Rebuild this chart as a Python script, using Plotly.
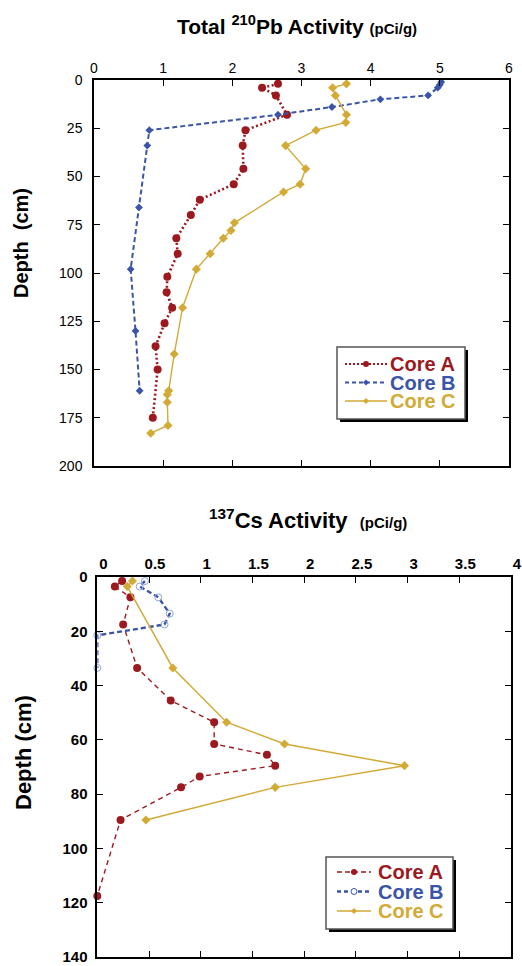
import plotly.graph_objects as go

W, H = 522, 966

# ---- Total 210Pb activity (pCi/g) by depth (cm) ----
pb_depth_a = [2, 4, 8, 18, 26, 34, 46, 54, 62, 70, 82, 90, 102, 110, 118, 126, 138, 150, 175]
pb_core_a = [2.66, 2.43, 2.63, 2.79, 2.19, 2.15, 2.16, 2.02, 1.53, 1.40, 1.19, 1.21,
             1.06, 1.05, 1.13, 1.02, 0.89, 0.92, 0.85]

pb_depth_b = [1, 2.5, 4, 8, 10, 14, 18, 26, 34, 66, 98, 130, 161]
pb_core_b = [5.02, 5.0, 4.97, 4.83, 4.14, 3.44, 2.66, 0.80, 0.77, 0.65, 0.53, 0.60, 0.66]

pb_depth_c = [2, 4, 8, 18, 22, 26, 34, 46, 54, 58, 74, 78, 82, 90, 98, 118, 142,
              161, 163, 167, 179, 183]
pb_core_c = [3.65, 3.45, 3.49, 3.65, 3.64, 3.21, 2.77, 3.06, 2.98, 2.74, 2.03, 1.98,
             1.87, 1.68, 1.48, 1.28, 1.16, 1.08, 1.06, 1.06, 1.07, 0.82]

# ---- 137Cs activity (pCi/g) by depth (cm) ----
cs_depth_a = [1.5, 3.5, 7.5, 17.5, 33.5, 45.5, 53.5, 61.5, 65.5, 69.5, 73.5, 77.5, 89.5, 117.5]
cs_core_a = [0.24, 0.17, 0.32, 0.25, 0.385, 0.71, 1.13, 1.13, 1.64, 1.72, 0.99, 0.81, 0.225, 0.0]

cs_depth_b = [1.5, 3.5, 7.5, 13.5, 17.5, 21.5, 33.5]
cs_core_b = [0.46, 0.41, 0.59, 0.70, 0.65, 0.0, 0.0]

cs_depth_c = [1.5, 3.5, 33.5, 53.5, 61.5, 69.5, 77.5, 89.5]
cs_core_c = [0.34, 0.29, 0.73, 1.25, 1.81, 2.97, 1.72, 0.47]

pb_ticks = [0, 1, 2, 3, 4, 5, 6]
pb_depth_ticks = [0, 25, 50, 75, 100, 125, 150, 175, 200]
cs_ticks = [0, 0.5, 1, 1.5, 2, 2.5, 3, 3.5, 4]
cs_depth_ticks = [0, 20, 40, 60, 80, 100, 120, 140]

RED = "#9c1a1f"
BLUE = "#3a55a8"
GOLD = "#d3aa36"
LIGHT_BLUE = "#8ea4d8"
FONT = "Liberation Sans, Arial, sans-serif"


def px(x):
    return x / W


def py(y):
    return 1 - y / H


fig = go.Figure()

# upper panel traces
fig.add_trace(go.Scatter(x=pb_core_a, y=pb_depth_a, mode="lines+markers", name="Core A",
                         line=dict(color=RED, width=2.6, dash="2px,2.5px"),
                         marker=dict(symbol="circle", size=8, color=RED),
                         xaxis="x", yaxis="y", cliponaxis=False))
fig.add_trace(go.Scatter(x=pb_core_b, y=pb_depth_b, mode="lines+markers", name="Core B",
                         line=dict(color=BLUE, width=2, dash="5px,3px"),
                         marker=dict(symbol="diamond", size=6, color=BLUE),
                         xaxis="x", yaxis="y", cliponaxis=False))
fig.add_trace(go.Scatter(x=pb_core_c, y=pb_depth_c, mode="lines+markers", name="Core C",
                         line=dict(color=GOLD, width=1.4),
                         marker=dict(symbol="diamond", size=7, color=GOLD),
                         xaxis="x", yaxis="y", cliponaxis=False))

# lower panel traces
fig.add_trace(go.Scatter(x=cs_core_a, y=cs_depth_a, mode="lines+markers", name="Core A",
                         line=dict(color=RED, width=1.4, dash="5px,4px"),
                         marker=dict(symbol="circle", size=8, color=RED),
                         xaxis="x2", yaxis="y2", cliponaxis=False))
fig.add_trace(go.Scatter(x=cs_core_b, y=cs_depth_b, mode="lines+markers", name="Core B",
                         line=dict(color=BLUE, width=2.4, dash="5px,3px"),
                         marker=dict(symbol="circle-open", size=7, color=LIGHT_BLUE,
                                     line=dict(width=1, color=LIGHT_BLUE)),
                         xaxis="x2", yaxis="y2", cliponaxis=False))
fig.add_trace(go.Scatter(x=cs_core_c, y=cs_depth_c, mode="lines+markers", name="Core C",
                         line=dict(color=GOLD, width=1.5),
                         marker=dict(symbol="diamond", size=7, color=GOLD),
                         xaxis="x2", yaxis="y2", cliponaxis=False))

axis_common = dict(showline=True, linecolor="black", linewidth=1.5, mirror="ticks",
                   ticks="inside", ticklen=6, tickwidth=1, tickcolor="black",
                   showgrid=False, zeroline=False, automargin=False,
                   ticklabeloverflow="allow")

fig.update_layout(
    width=W, height=H, margin=dict(l=0, r=0, t=0, b=0, autoexpand=False),
    paper_bgcolor="white", plot_bgcolor="white", showlegend=False,
    font=dict(family=FONT, color="black"),
    xaxis=dict(domain=[px(94), px(509)], range=[0, 6], side="top", anchor="y",
               tickvals=pb_ticks, tickfont=dict(size=14, family=FONT), **axis_common),
    yaxis=dict(domain=[py(466), py(80)], range=[200, 0], anchor="x",
               tickvals=pb_depth_ticks, ticklabelstandoff=7,
               tickfont=dict(size=14, family=FONT), **axis_common),
    xaxis2=dict(domain=[px(97.3), px(511)], range=[0, 4], side="top", anchor="y2",
                tickvals=cs_ticks, ticktext=[f"{v:g}" for v in cs_ticks], ticklabelshift=6,
                tickfont=dict(size=15, family=FONT, weight="bold"), **axis_common),
    yaxis2=dict(domain=[py(957), py(577)], range=[140, 0], anchor="x2",
                tickvals=cs_depth_ticks, ticklabelstandoff=5,
                tickfont=dict(size=15, family=FONT, weight="bold"), **axis_common),
)

annotations = [
    dict(text="<b>Total <sup>210</sup>Pb Activity <span style='font-size:15px'>(pCi/g)</span></b>",
         x=px(297), y=py(25), xref="paper", yref="paper", showarrow=False,
         font=dict(size=21, family=FONT, color="black"), xanchor="center", yanchor="middle"),
    dict(text="<b><sup>137</sup>Cs Activity&nbsp; <span style='font-size:15px'>(pCi/g)</span></b>",
         x=px(308), y=py(519), xref="paper", yref="paper", showarrow=False,
         font=dict(size=22, family=FONT, color="black"), xanchor="center", yanchor="middle"),
    dict(text="<b>Depth&nbsp; (cm)</b>", x=px(21), y=py(243), xref="paper", yref="paper",
         showarrow=False, textangle=-90, font=dict(size=20, family=FONT, color="black"),
         xanchor="center", yanchor="middle"),
    dict(text="<b>Depth (cm)</b>", x=px(23), y=py(753), xref="paper", yref="paper",
         showarrow=False, textangle=-90, font=dict(size=22, family=FONT, color="black"),
         xanchor="center", yanchor="middle"),
]

shapes = []


def legend_box(x0, y0, x1, y1):
    shapes.append(dict(type="rect", xref="paper", yref="paper",
                       x0=px(x0 + 3), x1=px(x1 + 3), y0=py(y1 + 3), y1=py(y0 + 3),
                       fillcolor="black", line=dict(width=0)))
    shapes.append(dict(type="rect", xref="paper", yref="paper",
                       x0=px(x0), x1=px(x1), y0=py(y1), y1=py(y0),
                       fillcolor="white", line=dict(color="#555555", width=1.5)))


def legend_row(lx0, lx1, mx, y, tx, label, color, width, dash, marker, msize, size,
               mfill=None):
    shapes.append(dict(type="line", xref="paper", yref="paper",
                       x0=px(lx0), x1=px(lx1), y0=py(y), y1=py(y),
                       line=dict(color=color, width=width, dash=dash)))
    r = msize / 2
    if marker == "circle":
        shapes.append(dict(type="circle", xref="paper", yref="paper",
                           x0=px(mx - r), x1=px(mx + r), y0=py(y + r), y1=py(y - r),
                           fillcolor=color if mfill is None else mfill,
                           line=dict(color=color, width=1 if mfill else 0)))
    else:
        path = (f"M {px(mx - r)} {py(y)} L {px(mx)} {py(y - r)} "
                f"L {px(mx + r)} {py(y)} L {px(mx)} {py(y + r)} Z")
        shapes.append(dict(type="path", xref="paper", yref="paper", path=path,
                           fillcolor=color, line=dict(width=0)))
    annotations.append(dict(text=f"<b>{label}</b>", x=px(tx), y=py(y), xref="paper",
                            yref="paper", showarrow=False, xanchor="left", yanchor="middle",
                            borderpad=0, font=dict(size=size, family=FONT, color=color)))


# upper legend
legend_box(337, 347, 465, 419)
legend_row(345, 387, 366, 364, 389, "Core A", RED, 2.2, "2px,2px", "circle", 6, 20)
legend_row(345, 387, 366, 382.5, 389, "Core B", BLUE, 2, "4px,3px", "diamond", 6, 20)
legend_row(345, 387, 366, 401, 389, "Core C", GOLD, 1.3, "solid", "diamond", 6, 20)

# lower legend
legend_box(326, 857, 453, 929)
legend_row(337, 371, 354, 872, 377, "Core A", RED, 1.3, "5px,3px", "circle", 6, 20)
legend_row(337, 371, 354, 891.5, 377, "Core B", BLUE, 2.4, "4px,3px", "circle", 6, 20,
           mfill="white")
legend_row(337, 371, 354, 911, 377, "Core C", GOLD, 1.4, "solid", "diamond", 6, 20)

fig.update_layout(annotations=annotations, shapes=shapes)

fig.write_html("out.html")
